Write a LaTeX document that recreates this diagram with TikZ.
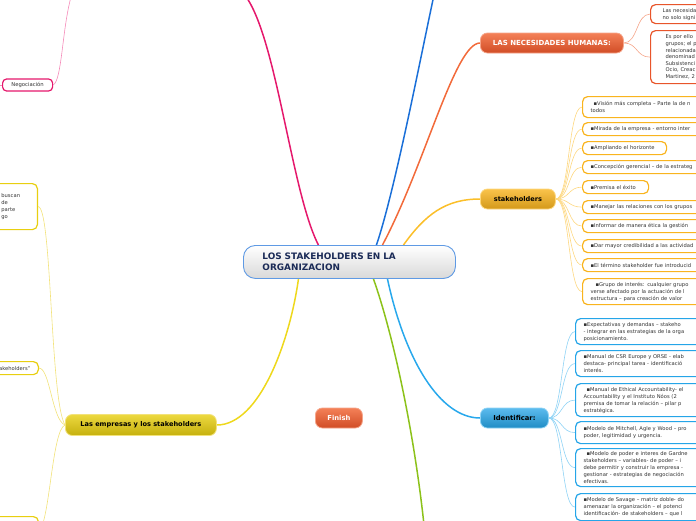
\documentclass[tikz,border=0pt]{standalone}
\usepackage{fontspec}
\setmainfont{DejaVu Sans}
\usetikzlibrary{calc}
\pgfdeclarelayer{bg}
\pgfsetlayers{bg,main}
\definecolor{pinkc}{HTML}{E5186C}
\definecolor{pinkl}{HTML}{F58AB8}
\definecolor{bluec}{HTML}{1A6FD8}
\definecolor{orangec}{HTML}{F26A3A}
\definecolor{stkc}{HTML}{FBBF2A}
\definecolor{stkl}{HTML}{FDD77F}
\definecolor{stkb}{HTML}{F9B41E}
\definecolor{yelc}{HTML}{EED81C}
\definecolor{yell}{HTML}{F2E27A}
\definecolor{yelb}{HTML}{E8CF10}
\definecolor{greenc}{HTML}{8CC21A}
\definecolor{idfc}{HTML}{28A8EC}
\definecolor{idfl}{HTML}{8FD3F5}
\definecolor{idfb}{HTML}{25A5E8}
\definecolor{necl}{HTML}{F5A58A}
\definecolor{necb}{HTML}{E8552A}
\definecolor{txt}{HTML}{333333}
\definecolor{navy}{HTML}{1B2B57}
\newcommand\leaffont{\fontsize{5.2}{7}\selectfont}
\begin{document}
\begin{tikzpicture}[x=1pt,y=-1pt,
  branch/.style={rounded corners=7pt, anchor=west, inner sep=0pt, minimum height=20pt, line width=0.8pt, align=center},
  leafbox/.style={rounded corners=5pt, line width=1.2pt, fill=white, anchor=north west, align=left, inner xsep=8pt, inner ysep=0pt, font=\leaffont, text=txt},
  sleaf/.style={leafbox, draw=stkb},
  ileaf/.style={leafbox, draw=idfb},
  nleaf/.style={leafbox, draw=necb},
  yleaf/.style={leafbox, draw=yelb, anchor=north east},
  mainline/.style={line width=1.5pt},
  thinline/.style={line width=0.6pt}
]
\useasboundingbox (0,0) rectangle (696,520);
\clip (0,0) rectangle (696,520);

% center
\node[draw=bluec!70!white, line width=0.9pt, rounded corners=12pt, top color=white, bottom color=gray!30, anchor=north west,
  minimum width=212pt, minimum height=33pt, inner xsep=19pt, inner ysep=0pt, text width=174pt, align=left,
  font=\bfseries\fontsize{8.9}{11.5}\selectfont, text=navy] (center) at (243,245) {LOS STAKEHOLDERS EN LA\\ORGANIZACION};

% branches
\node[branch, draw=necl, top color=orangec!85!white, bottom color=necb!90!black, minimum width=143pt, text=white,
  font=\bfseries\fontsize{7}{8}\selectfont] (nec) at (480,43) {LAS NECESIDADES HUMANAS:};
\node[branch, draw=stkl, top color=stkb!80!white, bottom color=stkb!85!black, minimum width=75pt, text=black,
  font=\bfseries\fontsize{6.6}{8}\selectfont] (stk) at (480,199) {stakeholders};
\node[branch, draw=idfl, top color=idfb!75!white, bottom color=idfb!85!black, minimum width=68pt, text=black,
  font=\bfseries\fontsize{6.8}{8}\selectfont] (idf) at (480,418) {Identificar:};
\node[branch, draw=yell, top color=yelb!80!white, bottom color=yelb!85!black, minimum width=151pt, minimum height=21pt, text=black,
  font=\bfseries\fontsize{6.6}{8}\selectfont] (emp) at (65,425) {Las empresas y los stakeholders};
\node[branch, draw=necl, top color=orangec!85!white, bottom color=necb!90!black, minimum width=47pt, text=white,
  font=\bfseries\fontsize{6.8}{8}\selectfont] (fin) at (315,418) {Finish};

% negociacion
\node[draw=pinkc, line width=1.2pt, rounded corners=4pt, fill=white, anchor=west, minimum width=50pt, minimum height=12pt,
  inner sep=0pt, font=\fontsize{5.3}{6}\selectfont, text=txt] (neg) at (2,85) {Negociación};

% necesidades notes
\node[nleaf, inner xsep=12pt, text width=176pt, minimum height=19pt] (n1) at (650,4) {Las necesida\\no solo signi};
\node[nleaf, inner xsep=15pt, text width=170pt, minimum height=53pt, font=\fontsize{5.2}{6.6}\selectfont] (n2) at (650,30)
  {Es por ello\\grupos; el p\\relacionada\\denominad\\Subsistenci\\Ocio, Creac\\Martinez, 2};

% stakeholders leaves
\node[sleaf, text width=184pt, minimum height=21pt] (s1) at (582,96) {\hspace*{3pt}▪Visión más completa – Parte la de n\\todos};
\node[sleaf, text width=184pt, minimum height=13pt] (s2) at (582,122) {▪Mirada de la empresa - entorno inter};
\node[sleaf, text width=68pt, minimum height=13pt] (s3) at (582,141) {▪Ampliando el horizonte};
\node[sleaf, text width=184pt, minimum height=13pt] (s4) at (582,160) {▪Concepción gerencial – de la estrateg};
\node[sleaf, text width=50pt, minimum height=13pt] (s5) at (582,180) {▪Premisa el éxito};
\node[sleaf, text width=184pt, minimum height=13pt] (s6) at (582,200) {▪Manejar las relaciones con los grupos};
\node[sleaf, text width=184pt, minimum height=13pt] (s7) at (582,219) {▪Informar de manera ética la gestión};
\node[sleaf, text width=184pt, minimum height=13pt] (s8) at (582,239) {▪Dar mayor credibilidad a las actividad};
\node[sleaf, text width=184pt, minimum height=13pt] (s9) at (582,258) {▪El término stakeholder fue introducid};
\node[sleaf, text width=184pt, minimum height=26pt] (s10) at (582,278) {\hspace*{5pt}▪Grupo de interés: cualquier grupo\\verse afectado por la actuación de l\\estructura – para creación de valor};

% identificar leaves
\node[ileaf, text width=190pt, minimum height=26pt] (i1) at (575,318) {▪Expectativas y demandas – stakeho\\- integrar en las estrategias de la orga\\posicionamiento.};
\node[ileaf, text width=190pt, minimum height=26pt] (i2) at (575,350) {▪Manual de CSR Europe y ORSE - elab\\destaca- principal tarea - identificació\\interés.};
\node[ileaf, text width=190pt, minimum height=33pt] (i3) at (575,383) {\hspace*{3pt}▪Manual de Ethical Accountability- el\\Accountability y el Instituto Nóos (2\\premisa de tomar la relación – pilar p\\estratégica.};
\node[ileaf, text width=190pt, minimum height=22pt] (i4) at (575,421) {▪Modelo de Mitchell, Agle y Wood – pro\\poder, legitimidad y urgencia.};
\node[ileaf, text width=190pt, minimum height=38pt] (i5) at (575,448) {\hspace*{3pt}▪Modelo de poder e interes de Gardne\\stakeholders – variables- de poder – i\\debe permitir y construir la empresa -\\gestionar - estrategias de negociación\\efectivas.};
\node[ileaf, text width=190pt, minimum height=27pt] (i6) at (575,493) {▪Modelo de Savage – matriz doble- do\\amenazar la organización – el potenci\\identificación- de stakeholders – que l};

% empresas leaves (left)
\node[yleaf, text width=84pt, minimum height=46pt, inner xsep=7pt] (lA) at (38,183) {\hspace*{55pt}buscan\\\hspace*{55pt}de\\\hspace*{55pt}parte\\\hspace*{55pt}go};
\node[yleaf, text width=84pt, minimum height=13pt, inner xsep=8pt, align=right] (lB) at (39,361) {stakeholders”};
\node[yleaf, text width=84pt, minimum height=30pt] (lC) at (39,516) {};

% free ends
\coordinate (pinkTop) at (240,-10);
\coordinate (blueTop) at (434,-5);
\coordinate (greenEnd) at (424,525);
\coordinate (negTop) at (71,-3);
\coordinate (negLeft) at (-10,85);

\begin{pgfonlayer}{bg}
\draw[mainline, pinkc] ([xshift=-31pt]center.north) .. controls (290,190) and (275,20) .. (pinkTop);
\draw[mainline, bluec] ([xshift=27pt]center.north) .. controls (395,190) and (420,60) .. (blueTop);
\draw[mainline, orangec] ([xshift=33pt]center.north) .. controls (425,165) and (455,43) .. (nec.west);
\draw[mainline, stkc] ([xshift=54pt]center.north) .. controls (425,215) and (445,199) .. (stk.west);
\draw[mainline, yelc] ([xshift=-51pt]center.south) .. controls (290,340) and (260,425) .. (emp.east);
\draw[mainline, greenc] ([xshift=24pt]center.south) .. controls (395,340) and (415,440) .. (greenEnd);
\draw[mainline, idfc] ([xshift=38pt]center.south) .. controls (405,360) and (440,418) .. (idf.west);

\draw[thinline, pinkl] (neg.east) .. controls (62,80) and (62,30) .. (negTop);
\draw[thinline, pinkl] (neg.west) -- (negLeft);

\foreach \n in {n1,n2}
  \draw[thinline, necl] (nec.east) .. controls +(14,0) and +(-14,0) .. (\n.west);
\foreach \n in {s1,s2,s3,s4,s5,s6,s7,s8,s9,s10}
  \draw[thinline, stkl] (stk.east) .. controls +(14,0) and +(-14,0) .. (\n.west);
\foreach \n in {i1,i2,i3,i4,i5,i6}
  \draw[thinline, idfl] (idf.east) .. controls +(14,0) and +(-14,0) .. (\n.west);

\draw[thinline, yell] (emp.west) .. controls (50,400) and (52,206) .. (lA.east);
\draw[thinline, yell] (emp.west) .. controls (52,420) and (50,368) .. (lB.east);
\draw[thinline, yell] (emp.west) .. controls (52,430) and (50,520) .. (lC.east);
\end{pgfonlayer}
\end{tikzpicture}
\end{document}
